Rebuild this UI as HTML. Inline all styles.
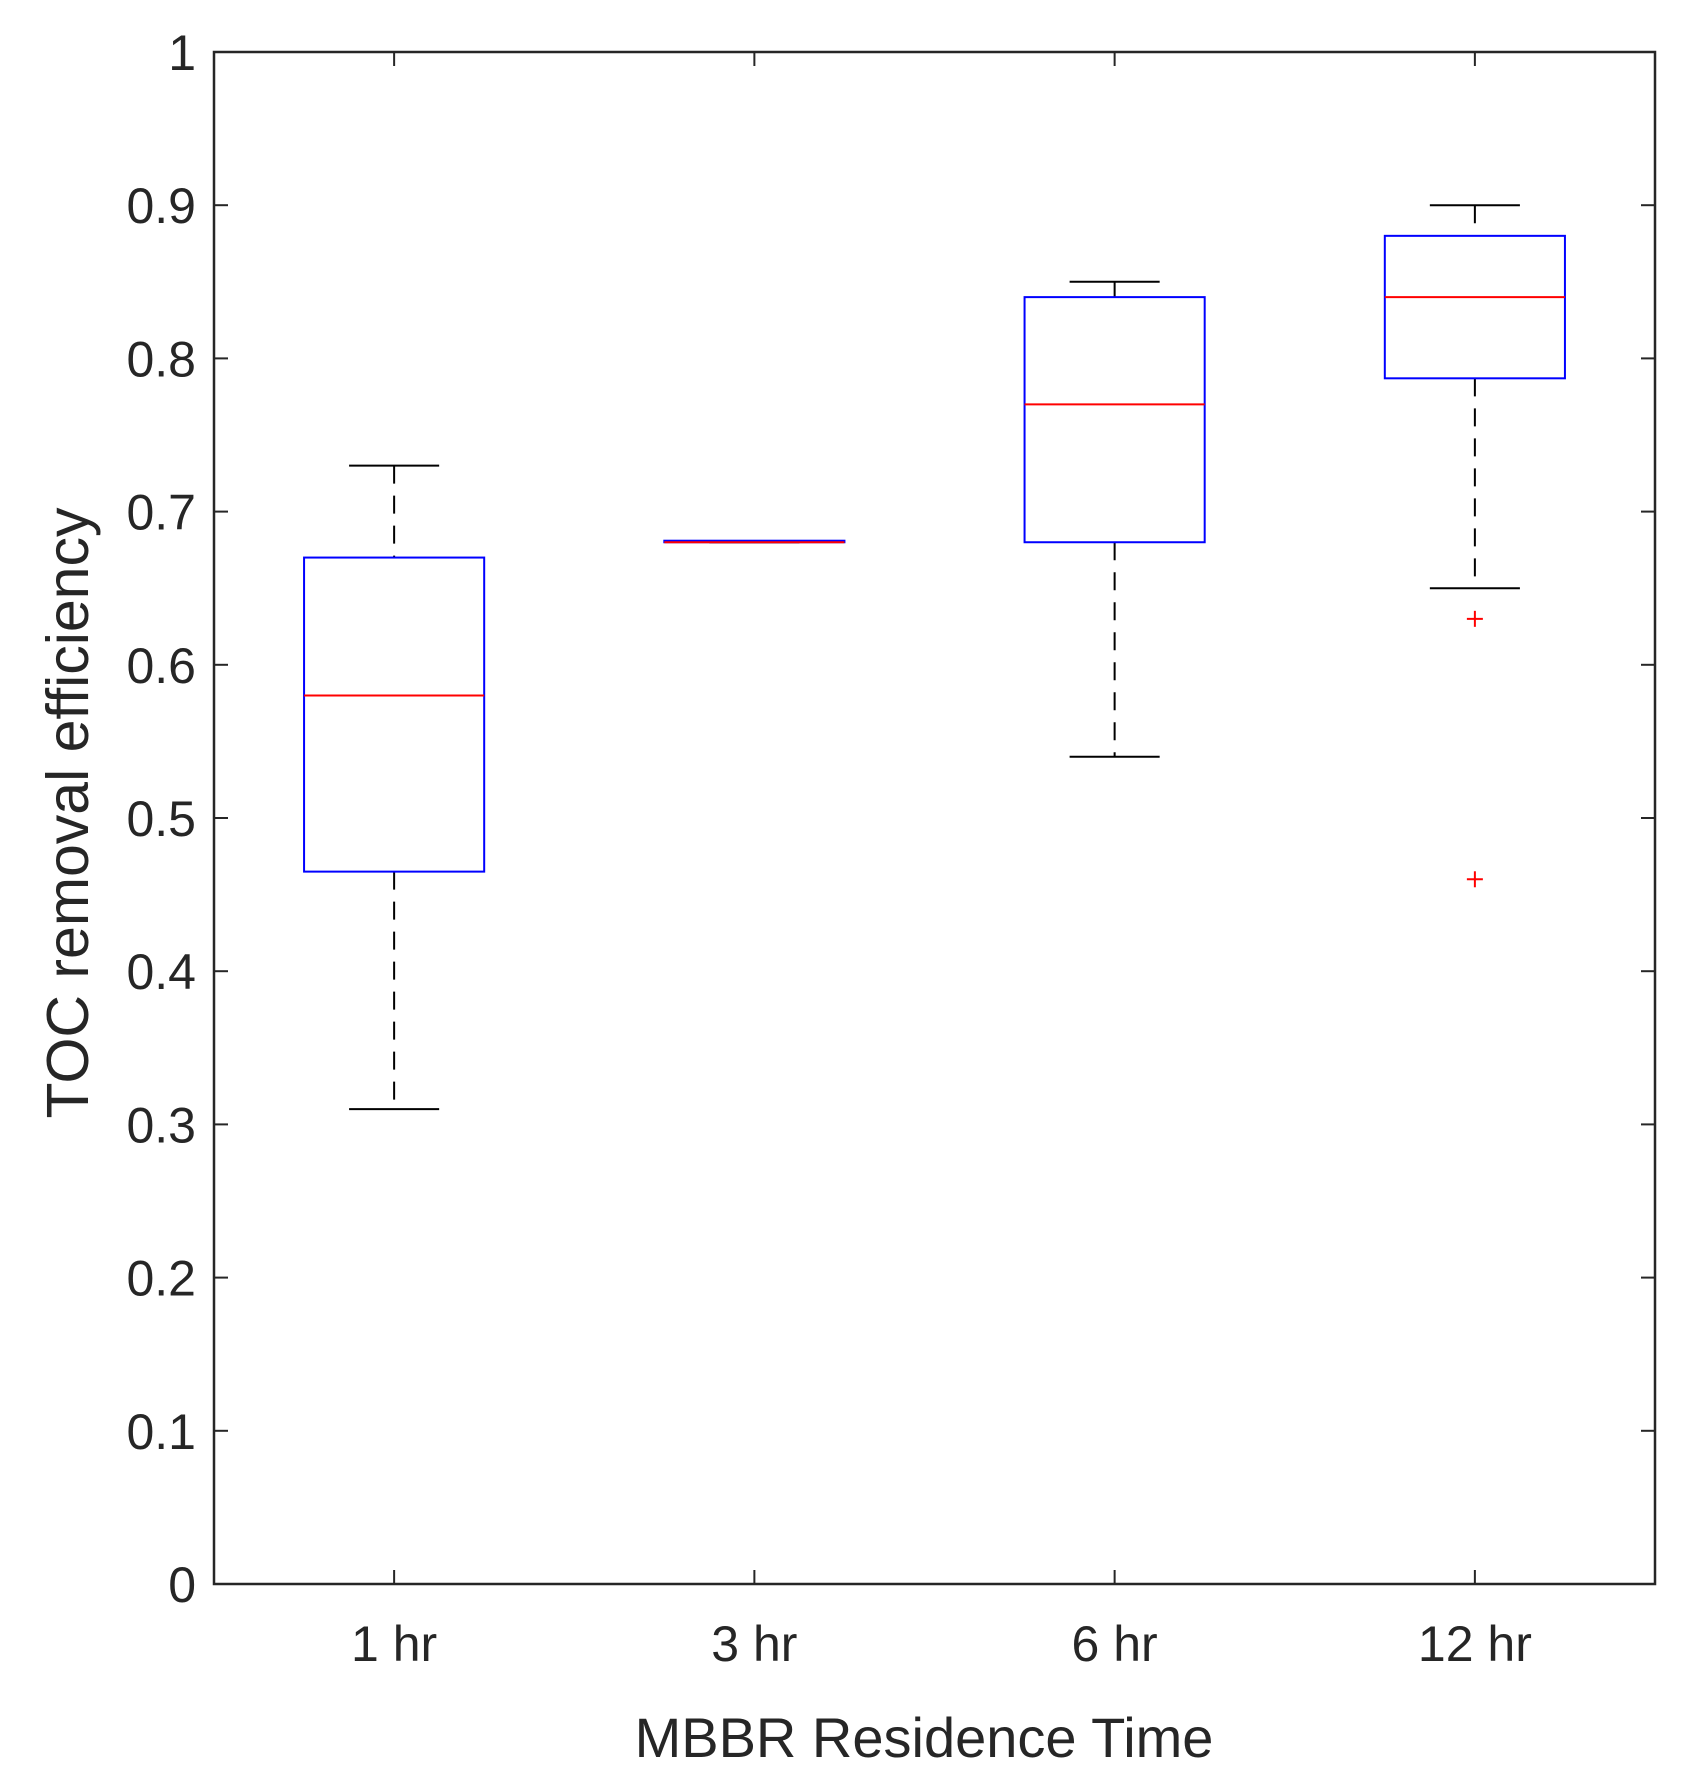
<!DOCTYPE html>
<html><head><meta charset="utf-8"><style>
html,body{margin:0;padding:0;background:#fff}
svg{display:block}
text{font-family:"Liberation Sans",Arial,sans-serif;fill:#262626}
</style></head><body>
<svg id="chart" width="1685" height="1784" viewBox="0 0 1685 1784" xmlns="http://www.w3.org/2000/svg"></svg>
<script>
const categories = ["1 hr","3 hr","6 hr","12 hr"];
const lowerWhisker = [0.31, 0.68, 0.54, 0.65];
const q1 = [0.465, 0.68, 0.68, 0.787];
const median = [0.58, 0.68, 0.77, 0.84];
const q3 = [0.67, 0.681, 0.84, 0.88];
const upperWhisker = [0.73, 0.68, 0.85, 0.90];
const outlierCat = [3, 3];
const outlierVal = [0.63, 0.46];
const yTicks = [0,0.1,0.2,0.3,0.4,0.5,0.6,0.7,0.8,0.9,1];
const yTickLabels = ["0","0.1","0.2","0.3","0.4","0.5","0.6","0.7","0.8","0.9","1"];

const L=214,R=1655,T=52,B=1584;
const svg=document.getElementById('chart');
const NS='http://www.w3.org/2000/svg';
function X(i){return L+(i+0.5)/categories.length*(R-L);}
function Y(v){return B-v*(B-T);}
const unit=(R-L)/categories.length;
function el(tag,attrs,name){const e=document.createElementNS(NS,tag);for(const k in attrs)e.setAttribute(k,attrs[k]);


svg.appendChild(e);return e;}
function line(x1,y1,x2,y2,stroke,name,extra){const a={x1,y1,x2,y2,stroke,'stroke-width':2};Object.assign(a,extra||{});return el('line',a,name);}

yTicks.forEach((v,i)=>{
  line(L,Y(v),L+14,Y(v),'#262626','y-tick');
  line(R,Y(v),R-14,Y(v),'#262626','y-tick-right');
  const t=el('text',{x:196,y:Y(v)+18,'text-anchor':'end','font-size':50},'y-tick-label');t.textContent=yTickLabels[i];
});
categories.forEach((c,i)=>{
  line(X(i),B,X(i),B-14,'#262626','x-tick');
  line(X(i),T,X(i),T+14,'#262626','x-tick-top');
  const t=el('text',{x:X(i),y:1661,'text-anchor':'middle','font-size':50},'x-tick-label');t.textContent=c;
});

categories.forEach((c,i)=>{
  const cx=X(i),hw=unit*0.25,cw=unit*0.125;
  line(cx,Y(upperWhisker[i]),cx,Y(q3[i]),'#000','upper-whisker',{'stroke-dasharray':'18,12'});
  line(cx,Y(q1[i]),cx,Y(lowerWhisker[i]),'#000','lower-whisker',{'stroke-dasharray':'18,12'});
  line(cx-cw,Y(upperWhisker[i]),cx+cw,Y(upperWhisker[i]),'#000','upper-cap');
  line(cx-cw,Y(lowerWhisker[i]),cx+cw,Y(lowerWhisker[i]),'#000','lower-cap');
  el('rect',{x:cx-hw,y:Y(q3[i]),width:2*hw,height:Math.max(0.5,Y(q1[i])-Y(q3[i])),fill:'none',stroke:'#0000ff','stroke-width':2},'box-'+c.replace(' ',''));
  line(cx-hw,Y(median[i]),cx+hw,Y(median[i]),'#ff0000','median-line');
});
outlierVal.forEach((v,k)=>{
  const cx=X(outlierCat[k]),cy=Y(v);
  line(cx-8,cy,cx+8,cy,'#ff0000','outlier-h');
  line(cx,cy-8,cx,cy+8,'#ff0000','outlier-v');
});

el('rect',{x:L,y:T,width:R-L,height:B-T,fill:'none',stroke:'#262626','stroke-width':2.5},'plot-frame');

const xt=el('text',{x:924,y:1757,'text-anchor':'middle','font-size':56},'x-axis-title');xt.textContent='MBBR Residence Time';
const yt=el('text',{x:0,y:0,'text-anchor':'middle','font-size':59,transform:'translate(88,813) rotate(-90)'},'y-axis-title');yt.textContent='TOC removal efficiency';
</script>
</body></html>
